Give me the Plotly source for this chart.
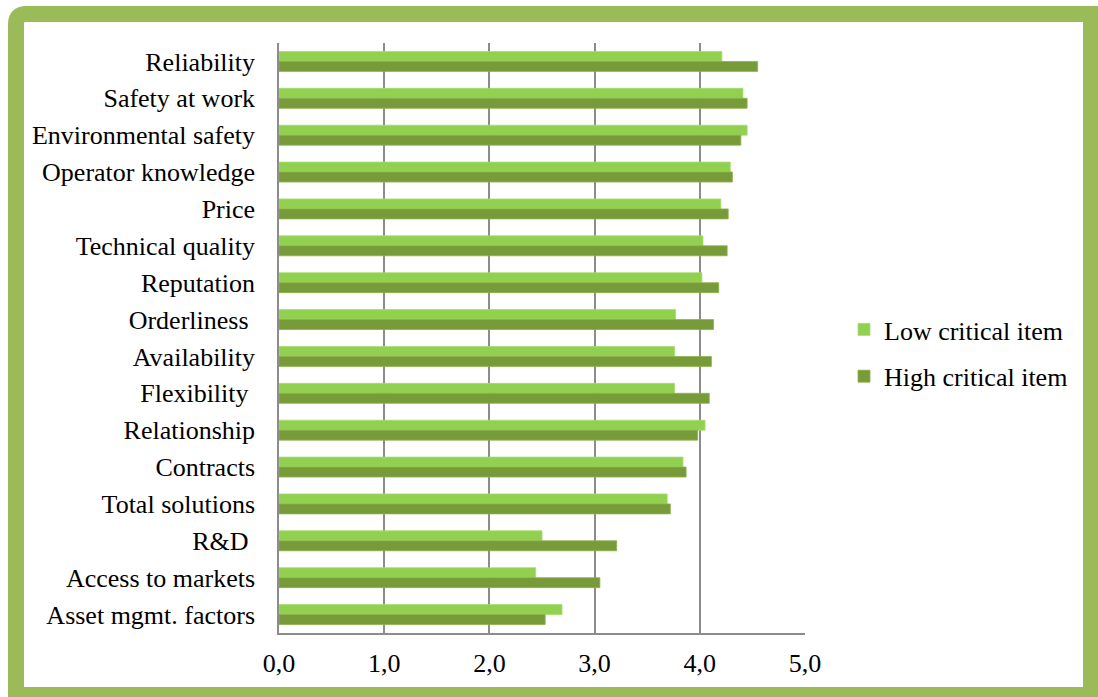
import plotly.graph_objects as go

categories = ["Reliability", "Safety at work", "Environmental safety", "Operator knowledge",
              "Price", "Technical quality", "Reputation", "Orderliness\u00a0", "Availability",
              "Flexibility\u00a0", "Relationship", "Contracts", "Total solutions", "R&D\u00a0",
              "Access to markets", "Asset mgmt. factors"]
low_critical = [4.21, 4.41, 4.45, 4.29, 4.20, 4.03, 4.02, 3.77, 3.76, 3.76, 4.05, 3.84, 3.69, 2.50, 2.44, 2.69]
high_critical = [4.55, 4.45, 4.39, 4.31, 4.27, 4.26, 4.18, 4.13, 4.11, 4.09, 3.98, 3.87, 3.72, 3.21, 3.05, 2.53]
x_ticks = [0, 1, 2, 3, 4, 5]

W, H = 1098, 697
L, R, T, B = 279, 805, 43, 633
FS = 26


def px(x):
    return (x - L) / (R - L)


def py(y):
    return (B - y) / (B - T)


fig = go.Figure()
fig.add_trace(go.Bar(y=categories, x=low_critical, orientation="h", name="Low critical item",
                     marker=dict(color="#92D050", line=dict(color="#A6DC6E", width=0.8)),
                     legendgroup="a"))
fig.add_trace(go.Bar(y=categories, x=high_critical, orientation="h", name="High critical item",
                     marker=dict(color="#789B3A", line=dict(color="#8DB04A", width=0.8)),
                     legendgroup="b"))

# rounded green frame
xo0, yo0 = px(16), py(14)
xo1, yo1 = px(1091), py(695)
rx = 10 / (R - L)
ry = 10 / (B - T)
path = (f"M {xo0},{yo0 - ry} Q {xo0},{yo0} {xo0 + rx},{yo0} "
        f"L {xo1},{yo0} L {xo1},{yo1} L {xo0},{yo1} Z")

fig.update_layout(
    width=W, height=H,
    margin=dict(l=L, r=W - R, t=T, b=H - B),
    paper_bgcolor="white", plot_bgcolor="white",
    barmode="group", bargap=0.46, bargroupgap=0,
    separators=",.",
    font=dict(family="Liberation Serif", size=FS, color="black"),
    showlegend=True,
    legend=dict(x=px(844), y=py(306), xanchor="left", yanchor="top",
                traceorder="grouped", tracegroupgap=10,
                font=dict(family="Liberation Serif", size=FS, color="black"),
                itemwidth=30, bgcolor="rgba(0,0,0,0)"),
    xaxis=dict(range=[0, 5], tickvals=x_ticks, tickformat=".1f",
               showgrid=True, gridcolor="#8C8C8C", gridwidth=1.5,
               showline=True, linecolor="#8C8C8C", linewidth=1.5,
               zeroline=False, ticks="", ticklabelstandoff=6,
               tickfont=dict(family="Liberation Serif", size=FS, color="black")),
    yaxis=dict(autorange="reversed", showline=True, linecolor="#8C8C8C", linewidth=1.5,
               ticks="", ticklabelstandoff=17,
               tickfont=dict(family="Liberation Serif", size=FS, color="black")),
    shapes=[dict(type="path", xref="paper", yref="paper", path=path,
                 line=dict(color="#9BBB59", width=16), fillcolor="rgba(0,0,0,0)",
                 layer="above")],
)

fig.write_html("out.html")
